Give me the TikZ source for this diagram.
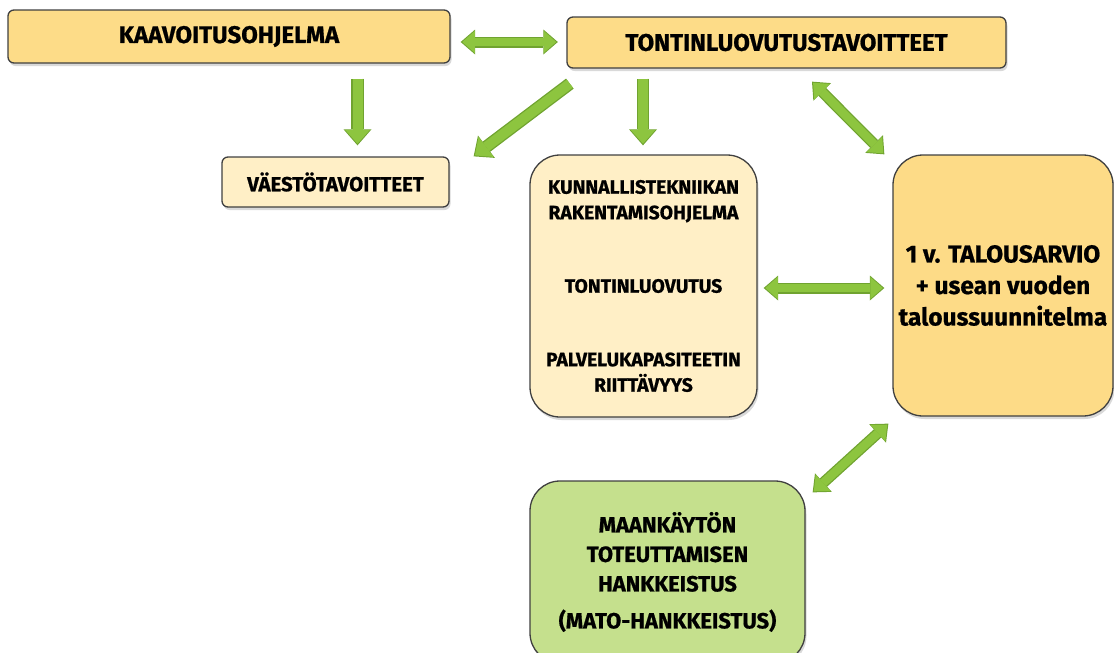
\documentclass[tikz,border=0pt]{standalone}
\usepackage[RGB]{xcolor}
\usepackage{fontspec}
\setmainfont{Fira Sans}[BoldFeatures={FakeBold=0.8}]
\usetikzlibrary{arrows.meta,calc,shadows}
\definecolor{goal}{RGB}{253,220,136}
\definecolor{pale}{RGB}{255,239,198}
\definecolor{budget}{RGB}{253,219,135}
\definecolor{mato}{RGB}{197,224,141}
\definecolor{rim}{RGB}{64,64,64}
\definecolor{leaf}{RGB}{141,197,63}
\definecolor{leafedge}{RGB}{112,163,48}
\newcommand{\fsz}[2]{\fontsize{#1}{#2}\selectfont\bfseries}
\tikzset{
  box/.style={draw=rim, line width=1.3pt, align=center, inner sep=0pt,
    drop shadow={shadow xshift=1.5pt, shadow yshift=-3pt, opacity=0.3}},
  garrow/.style={line width=10pt, draw=leaf, shorten >=1.6pt,
    -{Triangle[line width=0pt,width=25pt,length=14pt]},
    preaction={draw=leafedge, line width=12.6pt, shorten >=0pt,
      -{Triangle[line width=0pt,width=28pt,length=16pt]}}},
  gdouble/.style={line width=8.5pt, draw=leaf, shorten >=1.6pt, shorten <=1.6pt,
    {Triangle[line width=0pt,width=22pt,length=12.5pt]}-{Triangle[line width=0pt,width=22pt,length=12.5pt]},
    preaction={draw=leafedge, line width=11pt, shorten >=0pt, shorten <=0pt,
      {Triangle[line width=0pt,width=25pt,length=14.5pt]}-{Triangle[line width=0pt,width=25pt,length=14.5pt]}}}
}
\begin{document}
\begin{tikzpicture}[x=1pt,y=-1pt]
\useasboundingbox (0,0) rectangle (1114,653);
% boxes
\node[box, fill=goal, rounded corners=6pt, minimum width=442pt, minimum height=53pt, font=\fsz{24}{30}] (kaav) at (229,36.5) {KAAVOITUSOHJELMA};
\node[box, fill=goal, rounded corners=6pt, minimum width=439pt, minimum height=51pt, font=\fsz{24}{30}] (ton) at (786.5,42.5) {TONTINLUOVUTUSTAVOITTEET};
\node[box, fill=pale, rounded corners=6pt, minimum width=227pt, minimum height=50pt, font=\fsz{20.4}{24}] (vaesto) at (335.5,182) {VÄESTÖTAVOITTEET};
\node[box, fill=pale, rounded corners=30pt, minimum width=227pt, minimum height=262pt, font=\fsz{19.3}{25.5}] (kunn) at (643.5,286) {KUNNALLISTEKNIIKAN\\RAKENTAMISOHJELMA\\[48pt]TONTINLUOVUTUS\\[48pt]PALVELUKAPASITEETIN\\RIITTÄVYYS};
\node[box, fill=budget, rounded corners=30pt, minimum width=220pt, minimum height=261pt, font=\fsz{24.5}{31.5}] (talous) at (1003,285.5) {1 v. TALOUSARVIO\\+ usean vuoden\\taloussuunnitelma};
\node[box, fill=mato, rounded corners=30pt, minimum width=275pt, minimum height=182pt, font=\fsz{22}{29.5}] (matobox) at (667.5,572) {MAANKÄYTÖN\\TOTEUTTAMISEN\\HANKKEISTUS\\[7.5pt](MATO-HANKKEISTUS)};
% arrows
\draw[gdouble] ($(kaav.east)+(10,5.5)$) -- ($(ton.west)+(-8.5,-0.5)$);
\draw[garrow] ($(kaav.south)+(128.5,15)$) -- ($(vaesto.north)+(22,-11)$);
\draw[garrow] ($(ton.south west)+(3.5,15)$) -- ($(vaesto.north east)+(24,0)$);
\draw[garrow] ($(ton.south)+(-143.5,10)$) -- ($(kunn.north)+(-0.5,-9)$);
\draw[gdouble] ($(ton.south)+(25.5,13)$) -- ($(talous.north west)+(-8,0)$);
\draw[gdouble] ($(kunn.east)+(6,2)$) -- ($(talous.west)+(-8,2.5)$);
\draw[gdouble] ($(matobox.north east)+(7,12)$) -- ($(talous.south west)+(-4,7)$);
\end{tikzpicture}
\end{document}
